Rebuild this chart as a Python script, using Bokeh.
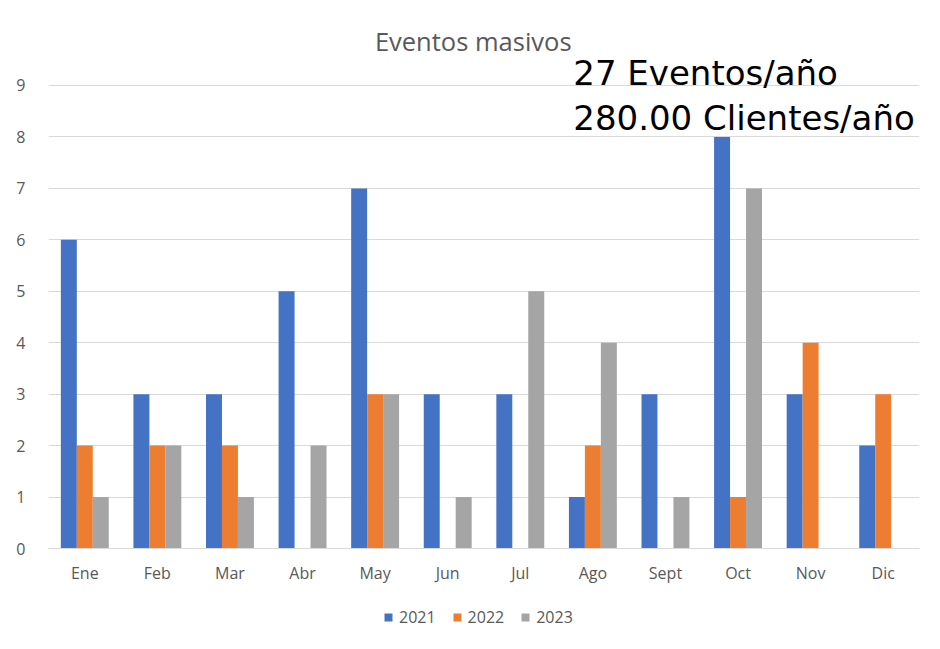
from bokeh.plotting import figure
from bokeh.models import FactorRange, Range1d, Label, Legend, LegendItem, FixedTicker
from bokeh.transform import dodge
from bokeh.models import ColumnDataSource
from bokeh.layouts import column
from bokeh.embed import file_html
from bokeh.resources import INLINE

months = ["Ene", "Feb", "Mar", "Abr", "May", "Jun", "Jul", "Ago", "Sept", "Oct", "Nov", "Dic"]
y2021 = [6, 3, 3, 5, 7, 3, 3, 1, 3, 8, 3, 2]
y2022 = [2, 2, 2, 0, 3, 0, 0, 2, 0, 1, 4, 3]
y2023 = [1, 2, 1, 2, 3, 1, 5, 4, 1, 7, 0, 0]
series = ["2021", "2022", "2023"]
colors = ["#4472C4", "#ED7D31", "#A5A5A5"]
y_ticks = [0, 1, 2, 3, 4, 5, 6, 7, 8, 9]
title_text = "Eventos  masivos"
note_lines = ["27 Eventos/año", "280.00 Clientes/año"]

src = ColumnDataSource(dict(m=months, a=y2021, b=y2022, c=y2023))

FONT = "Open Sans"
GRAY = "#595959"

# main chart
p = figure(frame_width=871, frame_height=548, x_range=FactorRange(*months), y_range=Range1d(0, 10.652),
           output_backend="svg", toolbar_location=None,
           min_border_left=48, min_border_right=21, min_border_top=0, min_border_bottom=58)
p.outline_line_color = None
p.background_fill_color = "white"
p.border_fill_color = "white"

for key, off, col in zip(["a", "b", "c"], [-0.22, 0.0, 0.22], colors):
    p.vbar(x=dodge("m", off, range=p.x_range), top=key, width=0.22, source=src,
           fill_color=col, line_color=None)

p.xgrid.grid_line_color = None
p.ygrid.grid_line_color = "#D9D9D9"
p.ygrid.grid_line_width = 1
p.yaxis.ticker = FixedTicker(ticks=y_ticks)

for ax in (p.xaxis[0], p.yaxis[0]):
    ax.axis_line_color = None
    ax.major_tick_line_color = None
    ax.minor_tick_line_color = None
    ax.major_label_text_font = FONT
    ax.major_label_text_font_size = "16px"
    ax.major_label_text_color = GRAY

p.yaxis.major_label_standoff = 17
p.xaxis.major_label_standoff = 7
p.xaxis.axis_line_color = "#D9D9D9"

p.add_layout(Label(x=5.897, y=9.87, text=title_text, text_font=FONT, text_font_size="25.5px",
                   text_color=GRAY, text_align="center", text_baseline="alphabetic"))
p.add_layout(Label(x=7.23, y=9.25, text=note_lines[0], text_font="DejaVu Sans", text_font_size="34px",
                   text_color="black", text_align="left", text_baseline="alphabetic"))
p.add_layout(Label(x=7.23, y=8.37, text=note_lines[1], text_font="DejaVu Sans", text_font_size="34px",
                   text_color="black", text_align="left", text_baseline="alphabetic"))

# legend strip: same series drawn out of view, only the legend shows
q = figure(width=940, height=43, x_range=FactorRange(*months), y_range=Range1d(100, 101),
           output_backend="svg", toolbar_location=None,
           x_axis_location=None, y_axis_location=None,
           min_border_left=0, min_border_right=0, min_border_top=0, min_border_bottom=0)
q.outline_line_color = None
q.grid.grid_line_color = None
q.border_fill_color = "white"
q.background_fill_color = "white"
swatches = []
for key, col in zip(["a", "b", "c"], colors):
    swatches.append(q.vbar(x="m", top=key, width=0.22, source=src, fill_color=col, line_color=None))

legend = Legend(items=[LegendItem(label=s, renderers=[r]) for s, r in zip(series, swatches)],
                orientation="horizontal", location=(335, 21),
                label_text_font=FONT, label_text_font_size="16px", label_text_color=GRAY,
                glyph_width=10, glyph_height=10, label_standoff=6, spacing=16,
                border_line_color=None, background_fill_alpha=0, margin=0, padding=0)
q.add_layout(legend)

layout = column(p, q, spacing=0)
open("out.html", "w").write(file_html(layout, INLINE))
